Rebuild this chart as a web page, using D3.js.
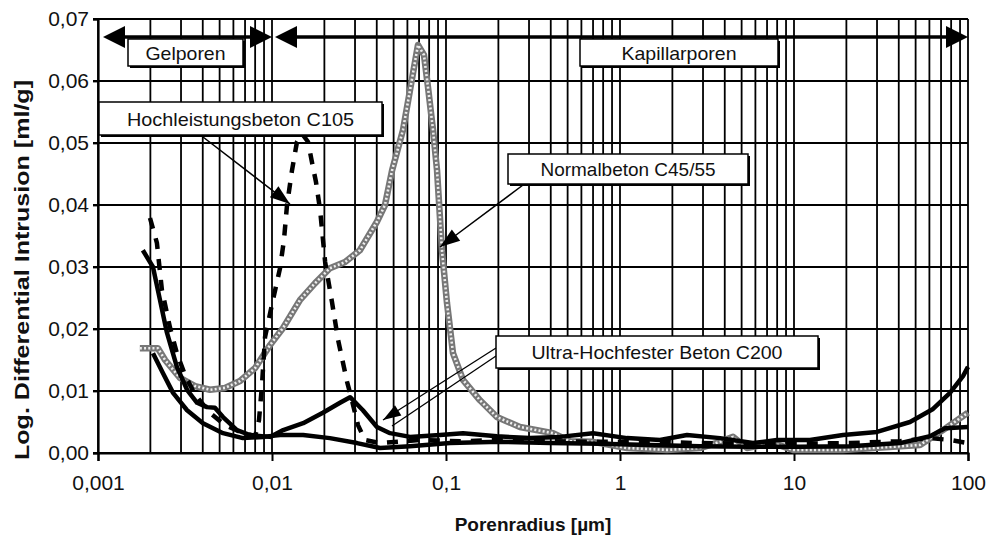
<!DOCTYPE html>
<html><head><meta charset="utf-8">
<script src="https://cdn.jsdelivr.net/npm/d3@7"></script>
<style>
html,body{margin:0;padding:0;background:#fff;}
text{font-family:"Liberation Sans",Arial,sans-serif;fill:#111;}
</style></head>
<body><svg id="c" width="990" height="544"></svg>
<script>
// ---- data: [radius µm, log. differential intrusion ml/g]
const normalbeton = [[0.00174,0.0169],[0.00221,0.0169],[0.00243,0.0150],[0.00296,0.0121],[0.00361,0.0108],[0.0044,0.0102],[0.00537,0.0105],[0.00655,0.0116],[0.0080,0.0137],[0.00974,0.0174],[0.0116,0.0202],[0.0145,0.0247],[0.0177,0.0274],[0.0215,0.0298],[0.0263,0.0308],[0.0320,0.0327],[0.0401,0.0373],[0.0446,0.0400],[0.0490,0.0456],[0.0566,0.0521],[0.0621,0.0585],[0.0690,0.0658],[0.0747,0.0642],[0.0788,0.0590],[0.0842,0.0521],[0.0888,0.0456],[0.0948,0.0327],[0.1013,0.0242],[0.1097,0.0161],[0.1252,0.0118],[0.1568,0.0085],[0.196,0.0058],[0.266,0.0042],[0.412,0.0032],[0.516,0.0019],[0.70,0.0018],[1.097,0.0008],[1.862,0.0005],[2.883,0.0008],[3.755,0.0018],[4.461,0.0026],[5.37,0.0008],[7.575,0.0016],[9.87,0.0005],[19.13,0.0005],[37.07,0.0010],[52.97,0.0013],[71.8,0.0037],[100,0.0065]];
const hochleistung = [[0.00199,0.0379],[0.00218,0.0339],[0.00233,0.0263],[0.00259,0.0203],[0.00284,0.0161],[0.00316,0.0126],[0.00361,0.0094],[0.0044,0.0065],[0.00537,0.0045],[0.00655,0.0034],[0.0080,0.0027],[0.00842,0.0053],[0.00876,0.0110],[0.00912,0.0187],[0.01013,0.0247],[0.01112,0.0298],[0.01172,0.0344],[0.0122,0.0400],[0.01303,0.0456],[0.01392,0.0502],[0.01487,0.0515],[0.0161,0.0502],[0.0170,0.0468],[0.0179,0.0437],[0.0189,0.0392],[0.0202,0.0308],[0.0221,0.0244],[0.0240,0.0182],[0.0270,0.0115],[0.0288,0.0085],[0.0312,0.0045],[0.0342,0.0021],[0.0418,0.0016],[0.0709,0.0021],[0.1204,0.0019],[0.2043,0.0021],[0.396,0.0019],[0.768,0.0018],[1.487,0.0018],[2.883,0.0016],[5.59,0.0015],[10.83,0.0015],[20.98,0.0016],[40.66,0.0019],[60.5,0.0024],[78.8,0.0021],[100,0.0016]];
const uhpcA = [[0.00181,0.0327],[0.00207,0.0300],[0.00227,0.0247],[0.00249,0.0194],[0.00284,0.0139],[0.00325,0.0102],[0.00371,0.0081],[0.00423,0.0074],[0.0047,0.0073],[0.00523,0.0058],[0.00629,0.0037],[0.00747,0.0029],[0.00974,0.0026],[0.0116,0.0037],[0.0151,0.0048],[0.0196,0.0065],[0.0246,0.0081],[0.0281,0.0090],[0.0333,0.0069],[0.0401,0.0042],[0.0477,0.0032],[0.0621,0.0026],[0.0923,0.0029],[0.1252,0.0032],[0.196,0.0027],[0.304,0.0024],[0.452,0.0026],[0.70,0.0032],[1.097,0.0024],[1.698,0.0021],[2.427,0.0029],[3.755,0.0024],[5.81,0.0016],[7.99,0.0021],[12.36,0.0021],[19.13,0.0029],[29.99,0.0034],[46.42,0.0050],[62.95,0.0071],[78.8,0.0097],[93.6,0.0124],[100,0.0139]];
const uhpcB = [[0.00207,0.0161],[0.00236,0.0129],[0.0027,0.0097],[0.00325,0.0069],[0.00401,0.0048],[0.00523,0.0032],[0.00681,0.0024],[0.00888,0.0026],[0.01112,0.0029],[0.0151,0.0029],[0.0215,0.0024],[0.0308,0.0016],[0.0418,0.0008],[0.0621,0.0011],[0.1054,0.0016],[0.2043,0.0018],[0.396,0.0016],[0.768,0.0015],[1.487,0.0013],[2.883,0.0011],[5.59,0.0010],[10.83,0.0010],[20.98,0.0011],[40.66,0.0016],[60.5,0.0027],[73.8,0.0040],[100,0.0042]];

const xTickValues = [0.001,0.01,0.1,1,10,100];
const xTickLabels = ["0,001","0,01","0,1","1","10","100"];
const yTickValues = [0,0.01,0.02,0.03,0.04,0.05,0.06,0.07];
const yTickLabels = ["0,00","0,01","0,02","0,03","0,04","0,05","0,06","0,07"];
const xTitle = "Porenradius [µm]";
const yTitle = "Log. Differential Intrusion [ml/g]";
const rangeLabels = ["Gelporen","Kapillarporen"];
const seriesLabels = ["Hochleistungsbeton C105","Normalbeton C45/55","Ultra-Hochfester Beton C200"];

// ---- layout
const L = 98, R = 968, T = 19, B = 453;
const svg = d3.select("#c");
const x = d3.scaleLog().domain([0.001,100]).range([L,R]);
const y = d3.scaleLinear().domain([0,0.07]).range([B,T]);

// grid
const g = svg.append("g");
const minor = [];
for (let e=-3;e<2;e++) for (let k=1;k<=9;k++) minor.push(k*Math.pow(10,e));
minor.push(100);
g.selectAll("line.v").data(minor).enter().append("line")
  .attr("x1",d=>x(d)).attr("x2",d=>x(d)).attr("y1",T).attr("y2",B)
  .attr("stroke","#000").attr("stroke-width",1.8);
g.selectAll("line.h").data(yTickValues).enter().append("line")
  .attr("x1",L-5).attr("x2",R).attr("y1",d=>y(d)).attr("y2",d=>y(d))
  .attr("stroke","#000").attr("stroke-width",1.8);
// axes
const xAxis = d3.axisBottom(x).tickValues(xTickValues).tickFormat((d,i)=>xTickLabels[i]).tickSize(8).tickPadding(14);
const ax = svg.append("g").attr("transform",`translate(0,${B})`).call(xAxis);
ax.select(".domain").attr("stroke","#000").attr("stroke-width",2.2);
ax.selectAll(".tick line").attr("stroke","#000").attr("stroke-width",2);
ax.selectAll("text").attr("font-size",21).attr("font-family","Liberation Sans, Arial").attr("fill","#111");
const yAxis = d3.axisLeft(y).tickValues(yTickValues).tickFormat((d,i)=>yTickLabels[i]).tickSize(5).tickPadding(4);
const ay = svg.append("g").attr("transform",`translate(${L},0)`).call(yAxis);
ay.select(".domain").attr("stroke","#000").attr("stroke-width",2.2);
ay.selectAll(".tick line").attr("stroke","#000").attr("stroke-width",1.8);
ay.selectAll("text").attr("font-size",21).attr("font-family","Liberation Sans, Arial").attr("fill","#111");

svg.append("text").attr("x",(L+R)/2).attr("y",531).attr("text-anchor","middle")
  .attr("font-size",19).attr("font-weight","bold").text(xTitle);
svg.append("text").attr("transform","translate(29,270) rotate(-90)").attr("text-anchor","middle")
  .attr("font-size",20).attr("font-weight","bold").attr("textLength",380).attr("lengthAdjust","spacingAndGlyphs").text(yTitle);

// series
const line = d3.line().x(d=>x(d[0])).y(d=>y(d[1])).curve(d3.curveLinear);
const sg = svg.append("g").attr("fill","none").attr("stroke-linejoin","round");
sg.append("path").datum(normalbeton).attr("d",line).attr("stroke","#777").attr("stroke-width",6.5);
sg.append("path").datum(normalbeton).attr("d",line).attr("stroke","#eee").attr("stroke-width",2.6).attr("stroke-dasharray","2,2.2");
sg.append("path").datum(uhpcB).attr("d",line).attr("stroke","#000").attr("stroke-width",4.5);
sg.append("path").datum(uhpcA).attr("d",line).attr("stroke","#000").attr("stroke-width",4.5);
sg.append("path").datum(hochleistung).attr("d",line).attr("stroke","#000").attr("stroke-width",4.5).attr("stroke-dasharray","11,10");

// arrows helper
function head(tx,ty,fx,fy,len,hw){
  const a=Math.atan2(ty-fy,tx-fx), c=Math.cos(a), s=Math.sin(a);
  const bx=tx-len*c, by=ty-len*s;
  svg.append("polygon").attr("points",[[tx,ty],[bx-hw*s,by+hw*c],[bx+hw*s,by-hw*c]].map(p=>p.join(",")).join(" ")).attr("fill","#000");
}
function arrow(fx,fy,tx,ty,len,hw,w){
  svg.append("line").attr("x1",fx).attr("y1",fy).attr("x2",tx).attr("y2",ty).attr("stroke","#000").attr("stroke-width",w);
  head(tx,ty,fx,fy,len,hw);
}
// range arrows
const ry = y(0.0671);
svg.append("line").attr("x1",x(0.001)+20).attr("x2",x(0.01)-18).attr("y1",ry).attr("y2",ry).attr("stroke","#000").attr("stroke-width",3.5);
head(x(0.001)+5,ry,x(0.01),ry,22,11); head(x(0.01),ry,x(0.001),ry,22,11);
svg.append("line").attr("x1",x(0.01)+20).attr("x2",x(100)-18).attr("y1",ry).attr("y2",ry).attr("stroke","#000").attr("stroke-width",3.5);
head(x(0.01)+3,ry,x(100),ry,22,11); head(x(100),ry,x(0.01),ry,22,11);

// label pointers
arrow(203,137,290,204,20,7,1.5);
arrow(523,185,440,247,20,7,1.5);
arrow(496,348,383,420,18,6,1.3);
svg.append("line").attr("x1",496).attr("y1",356).attr("x2",392).attr("y2",426).attr("stroke","#000").attr("stroke-width",1.3);

// boxes
function box(x0,y0,x1,y1,label,len){
  svg.append("rect").attr("x",x0+2).attr("y",y0+2).attr("width",x1-x0).attr("height",y1-y0).attr("fill","#000");
  svg.append("rect").attr("x",x0).attr("y",y0).attr("width",x1-x0).attr("height",y1-y0).attr("fill","#fff").attr("stroke","#000").attr("stroke-width",1.5);
  svg.append("text").attr("x",(x0+x1)/2).attr("y",(y0+y1)/2+7).attr("text-anchor","middle").attr("font-size",19)
    .attr("textLength",len).attr("lengthAdjust","spacingAndGlyphs").text(label);
}
box(128,39,243,66,rangeLabels[0],80);
box(580,39,778,66,rangeLabels[1],115);
box(99,102,382,135,seriesLabels[0],227);
box(508,154,748,184,seriesLabels[1],175);
box(496,336,818,368,seriesLabels[2],251);
</script></body></html>
